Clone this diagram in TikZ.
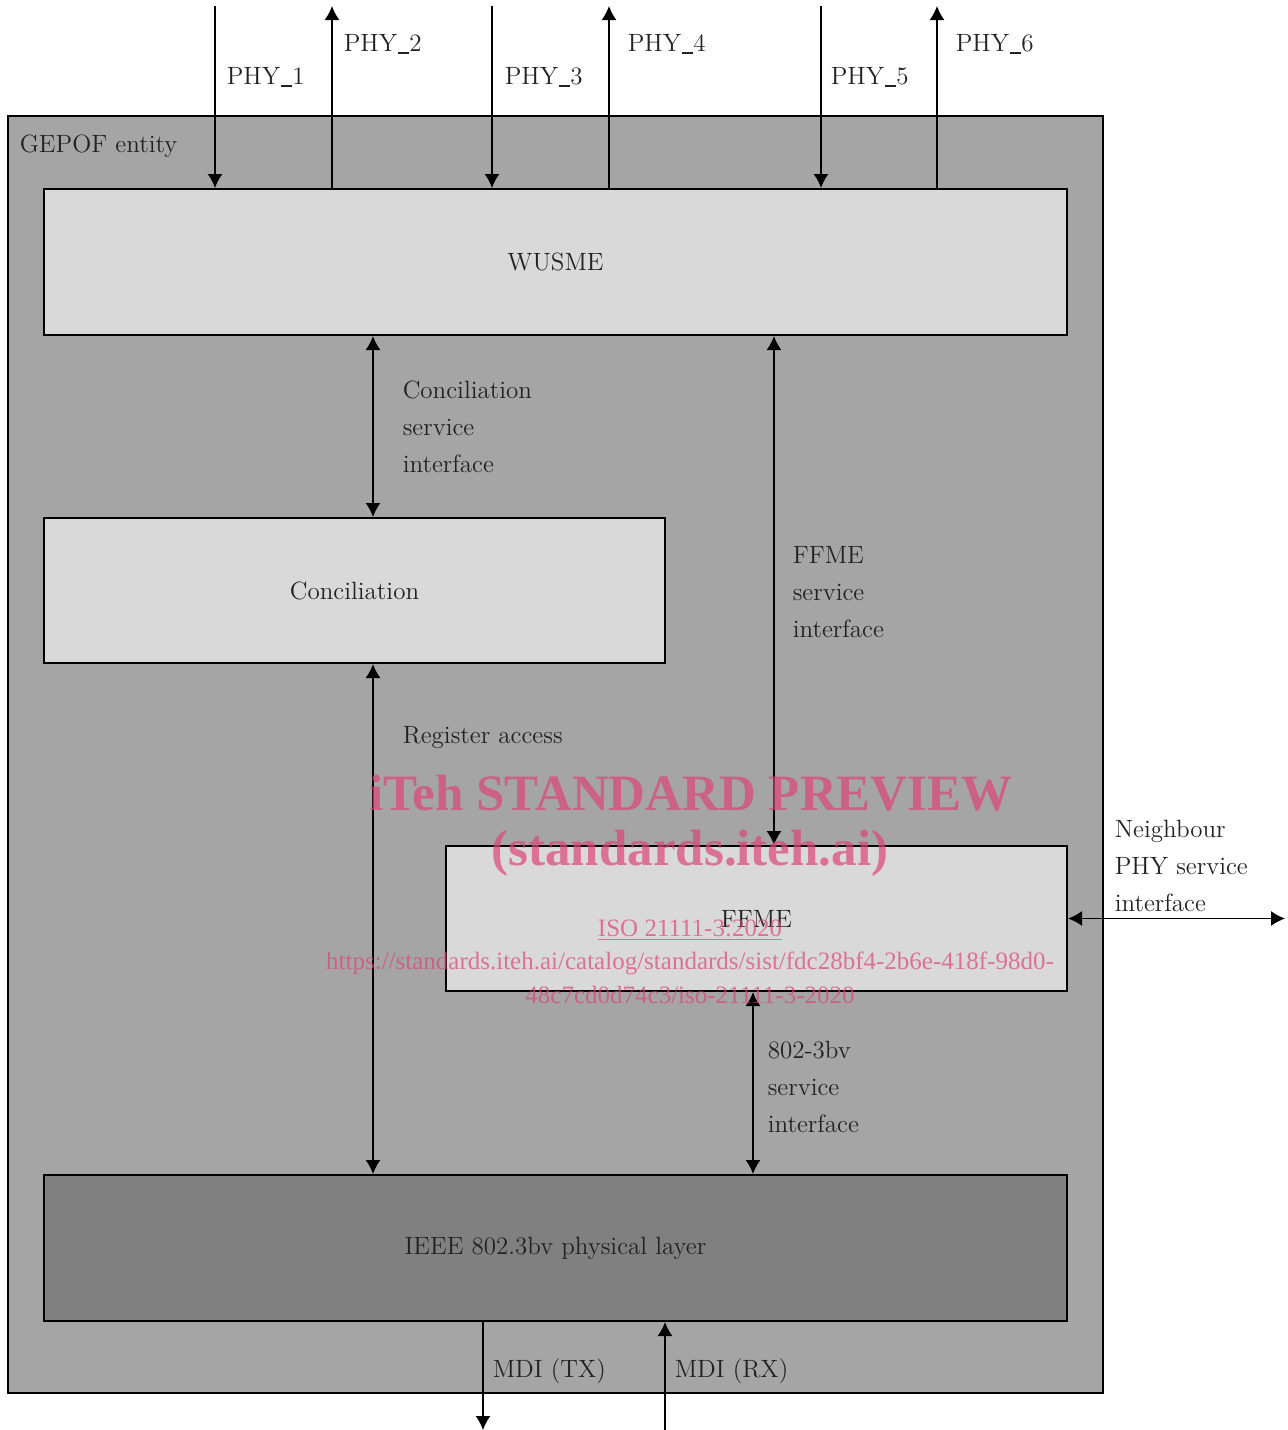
\documentclass[tikz,border=0pt]{standalone}
\usepackage{fontspec}
\usepackage{tikz}
\usetikzlibrary{arrows.meta}
\usetikzlibrary{positioning}
\newfontfamily\wmfont{Liberation Serif}
\definecolor{entitygray}{RGB}{165,165,165}
\definecolor{lightbox}{RGB}{217,217,217}
\definecolor{darkbox}{RGB}{128,128,128}
\definecolor{txt}{RGB}{34,34,34}
\definecolor{wmpink}{RGB}{220,70,120}
\newcommand{\us}{\kern0.3pt\rule[-1pt]{5.5pt}{0.9pt}\kern0.3pt}
\tikzstyle{block}=[draw,line width=1pt,fill=lightbox,inner sep=0pt,text=txt,minimum width=511.5pt,minimum height=73pt]
\tikzstyle{halfblock}=[block,minimum width=310.5pt,minimum height=72.5pt]
\tikzstyle{lbl}=[anchor=west,align=left,inner sep=0pt,text=txt,font=\fontsize{12.5}{18.5}\selectfont]
\tikzstyle{wm}=[text=wmpink,opacity=0.7,inner sep=0pt,align=center]

\begin{document}
\begin{tikzpicture}[x=0.5pt,y=-0.5pt,line width=0.8pt,>={Latex[length=7pt,width=7.5pt]},font=\fontsize{12.5}{18.5}\selectfont]
\useasboundingbox (0,0) rectangle (1288,1430);
\node [draw,line width=1pt,fill=entitygray,minimum width=547.5pt,minimum height=638.5pt,inner sep=0pt] (gepof) at (555.5,754.5) {};
\node [lbl] (gepoflbl) at (19,146) {GEPOF entity};

\node [block] (wusme) at (555.5,262) {WUSME};
\node [halfblock] (concil) at (354.5,590.5) {Conciliation};
\node [halfblock] (ffme) at (756.5,918.5) {FFME};
\node [block,fill=darkbox] (phy) at (555.5,1248) {IEEE 802.3bv physical layer};

% PHY ports on top
\coordinate (p1) at (215,6);
\coordinate (p2) at (332,6);
\coordinate (p3) at (492,6);
\coordinate (p4) at (609,6);
\coordinate (p5) at (821,6);
\coordinate (p6) at (937,6);
\foreach \i in {1,3,5} \draw[->] (p\i) -- (p\i |- wusme.north);
\foreach \i in {2,4,6} \draw[->] (p\i |- wusme.north) -- (p\i);
\node [lbl] (l1) at (226,77) {PHY\us1};
\node [lbl] (l2) at (343,44) {PHY\us2};
\node [lbl] (l3) at (504,77) {PHY\us3};
\node [lbl] (l4) at (627,44) {PHY\us4};
\node [lbl] (l5) at (830,77) {PHY\us5};
\node [lbl] (l6) at (955,44) {PHY\us6};

% service interfaces
\coordinate (cs) at (373,0);
\coordinate (fs) at (774,0);
\coordinate (bv) at (753,0);
\draw[<->] (cs |- wusme.south) -- (cs |- concil.north);
\draw[<->] (fs |- wusme.south) -- (fs |- ffme.north);
\draw[<->] (cs |- concil.south) -- (cs |- phy.north);
\draw[<->] (bv |- ffme.south) -- (bv |- phy.north);
\node [lbl] (csl) at (402,427) {Conciliation\\service\\interface};
\node [lbl] (fsl) at (792,592) {FFME\\service\\interface};
\node [lbl] (ral) at (402,738) {Register access};
\node [lbl] (bvl) at (767,1087) {802-3bv\\service\\interface};

\coordinate (nb) at (1285,918);
\draw[<->] (ffme.east) -- (ffme.east -| nb);
\node [lbl] (nbl) at (1114,866) {Neighbour\\PHY service\\interface};

% MDI
\coordinate (tx) at (483,1430);
\coordinate (rx) at (665,1430);
\draw[->] (tx |- phy.south) -- (tx);
\draw[->] (rx) -- (rx |- phy.south);
\node [lbl] (txl) at (492,1371) {MDI (TX)};
\node [lbl] (rxl) at (674,1371) {MDI (RX)};

% watermark
\node [wm,font=\wmfont\bfseries\fontsize{25.5}{30}\selectfont] (wm1) at (691,793) {iTeh STANDARD PREVIEW};
\node [wm,font=\wmfont\bfseries\fontsize{25.5}{30}\selectfont] (wm2) at (690,853) {(standards.iteh.ai)};
\node [wm,font=\wmfont\fontsize{12.5}{16}\selectfont] (wm3) at (690,930) {\underline{ISO 21111-3:2020}};
\node [wm,font=\wmfont\fontsize{12.5}{16}\selectfont] (wm4) at (690,963) {https://standards.iteh.ai/catalog/standards/sist/fdc28bf4-2b6e-418f-98d0-};
\node [wm,font=\wmfont\fontsize{12.5}{16}\selectfont] (wm5) at (690,995) {48c7cd0d74c3/iso-21111-3-2020};
\end{tikzpicture}
\end{document}
